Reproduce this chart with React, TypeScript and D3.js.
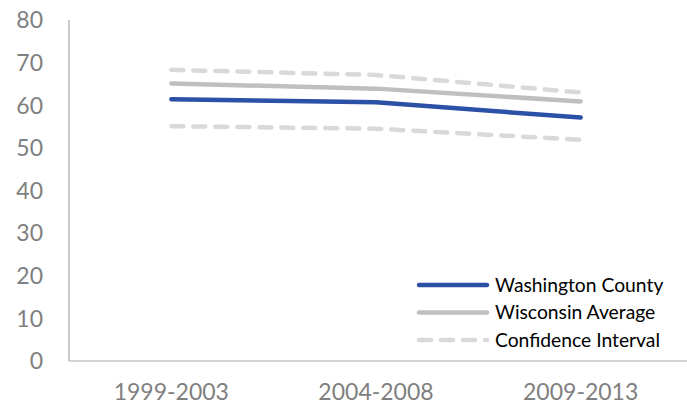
import { useEffect, useRef } from 'react'
import * as d3 from 'd3'

const periods = ['1999-2003', '2004-2008', '2009-2013']
const washington = [61.4, 60.7, 57.1]
const wisconsin = [65.1, 63.9, 60.9]
const ciUpper = [68.3, 67.1, 63.0]
const ciLower = [55.1, 54.5, 51.9]
const yTicks = [0, 10, 20, 30, 40, 50, 60, 70, 80]

const legendItems = [
  { label: 'Washington County', color: '#2b50a5', dash: null },
  { label: 'Wisconsin Average', color: '#bfbfbf', dash: null },
  { label: 'Confidence Interval', color: '#d9d9d9', dash: '12 10' },
]

const FONT = 'Lato, "Open Sans", sans-serif'

function App() {
  const svgRef = useRef<SVGSVGElement | null>(null)

  useEffect(() => {
    const width = 687
    const height = 407
    const svg = d3.select(svgRef.current)
      .attr('width', width)
      .attr('height', height)
      .style('display', 'block')
      .style('background', '#fff')

    svg.selectAll('*').remove()

    const left = 69
    const right = 683
    const top = 20
    const bottom = 361

    const x = d3.scaleBand().domain(periods).range([left, right])
    const y = d3.scaleLinear().domain([0, 80]).range([bottom, top])

    // ── Axes ─────────────────────────────────────────
    svg.append('line')
      .attr('x1', left).attr('x2', left)
      .attr('y1', top).attr('y2', bottom)
      .attr('stroke', '#a6a6a6').attr('stroke-width', 1.2)
    svg.append('line')
      .attr('x1', left).attr('x2', width)
      .attr('y1', bottom).attr('y2', bottom)
      .attr('stroke', '#a6a6a6').attr('stroke-width', 1.2)

    svg.selectAll('text.ytick')
      .data(yTicks)
      .join('text')
      .attr('class', 'ytick')
      .attr('x', 43)
      .attr('y', d => y(d))
      .attr('dy', '0.36em')
      .attr('text-anchor', 'end')
      .attr('font-family', FONT)
      .attr('font-size', 23)
      .attr('fill', '#7f7f7f')
      .text(d => d)

    svg.selectAll('text.xtick')
      .data(periods)
      .join('text')
      .attr('class', 'xtick')
      .attr('x', d => (x(d) ?? 0) + x.bandwidth() / 2)
      .attr('y', 400)
      .attr('text-anchor', 'middle')
      .attr('font-family', FONT)
      .attr('font-size', 23)
      .attr('fill', '#7f7f7f')
      .text(d => d)

    // ── Lines ────────────────────────────────────────
    const line = d3.line<number>()
      .x((_, i) => (x(periods[i]) ?? 0) + x.bandwidth() / 2)
      .y(d => y(d))

    const series = [
      { values: ciUpper, color: '#d9d9d9', dash: '12 10' },
      { values: ciLower, color: '#d9d9d9', dash: '12 10' },
      { values: wisconsin, color: '#bfbfbf', dash: null },
      { values: washington, color: '#2b50a5', dash: null },
    ]

    series.forEach(s => {
      svg.append('path')
        .attr('d', line(s.values))
        .attr('fill', 'none')
        .attr('stroke', s.color)
        .attr('stroke-width', 4.5)
        .attr('stroke-linecap', 'round')
        .attr('stroke-linejoin', 'round')
        .attr('stroke-dasharray', s.dash)
    })

    // ── Legend ───────────────────────────────────────
    const lg = svg.append('g')
    legendItems.forEach((item, i) => {
      const ly = 285 + i * 27.5
      lg.append('line')
        .attr('x1', 419).attr('x2', 487)
        .attr('y1', ly).attr('y2', ly)
        .attr('stroke', item.color)
        .attr('stroke-width', 4.5)
        .attr('stroke-linecap', 'round')
        .attr('stroke-dasharray', item.dash)
      lg.append('text')
        .attr('x', 495)
        .attr('y', ly)
        .attr('dy', '0.36em')
        .attr('font-family', FONT)
        .attr('font-size', 19.3)
        .attr('fill', '#000')
        .text(item.label)
    })
  }, [])

  return <svg ref={svgRef} style={{ position: 'absolute', left: 0, top: 0 }} />
}

export default App
